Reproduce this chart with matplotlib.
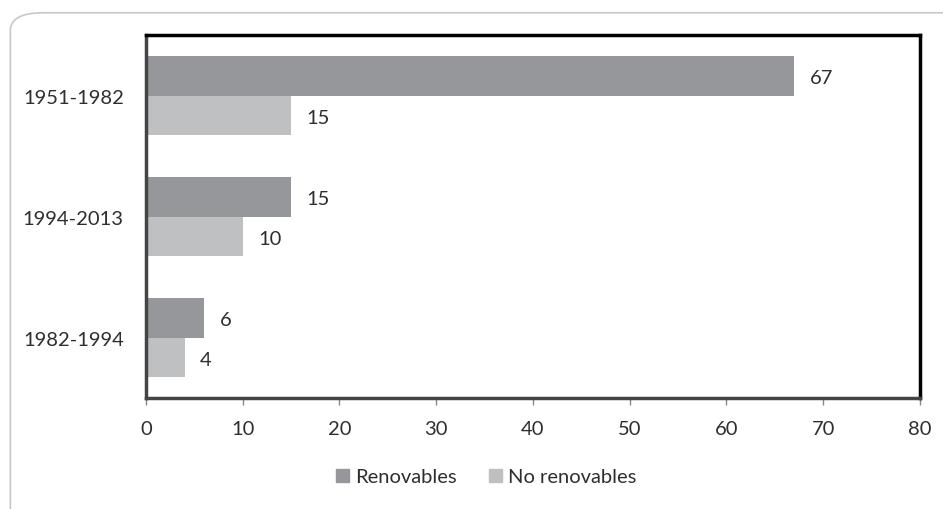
import numpy as np
import matplotlib.pyplot as plt
from matplotlib.patches import FancyBboxPatch, Patch

periods = ['1951-1982', '1994-2013', '1982-1994']
renovables = [67, 15, 6]
no_renovables = [15, 10, 4]
xticks = [0, 10, 20, 30, 40, 50, 60, 70, 80]

c_ren = '#96979a'
c_noren = '#bfc0c2'
txt = '#2e2e2e'
fs = 14.5

plt.rcParams['font.family'] = ['Lato', 'DejaVu Sans']

fig = plt.figure(figsize=(9.43, 5.10), dpi=100)
# rounded frame around chart
frame = FancyBboxPatch((0.011, -0.05), 1.05, 1.023,
                       boxstyle='round,pad=0,rounding_size=0.035',
                       transform=fig.transFigure, fill=False,
                       edgecolor='#c8c8c8', linewidth=1.2)
fig.patches.append(frame)

ax = fig.add_axes([0.1548, 0.2176, 0.8208, 0.7118])
y = np.arange(len(periods))
h = 0.33
ax.barh(y - h/2, renovables, height=h, color=c_ren, label='Renovables')
ax.barh(y + h/2, no_renovables, height=h, color=c_noren, label='No renovables')

for i in range(len(periods)):
    ax.text(renovables[i] + 1.6, y[i] - h/2 + 0.02, str(renovables[i]), va='center', ha='left',
            fontsize=fs, color=txt)
    ax.text(no_renovables[i] + 1.6, y[i] + h/2 + 0.02, str(no_renovables[i]), va='center', ha='left',
            fontsize=fs, color=txt)

ax.set_ylim(2.5, -0.5)
ax.set_xlim(0, 80)
ax.set_yticks(y)
ax.set_yticklabels(periods, fontsize=fs, color=txt)
ax.set_xticks(xticks)
ax.set_xticklabels([str(t) for t in xticks], fontsize=fs, color=txt)
ax.tick_params(axis='y', length=0, pad=16)
ax.tick_params(axis='x', length=5, width=1, color='#888888', pad=11, direction='out')

for s in ['top', 'right']:
    ax.spines[s].set_color('black')
    ax.spines[s].set_linewidth(2.5)
for s in ['left', 'bottom']:
    ax.spines[s].set_color('#444444')
    ax.spines[s].set_linewidth(2.5)

handles = [Patch(color=c_ren, label='Renovables'), Patch(color=c_noren, label='No renovables')]
fig.legend(handles=handles, loc='center', bbox_to_anchor=(0.516, 0.063), ncol=2,
           frameon=False, fontsize=fs, handlelength=0.65, handleheight=0.65,
           handletextpad=0.3, columnspacing=1.6, labelcolor=txt)

fig.savefig('out.png', dpi=100)
